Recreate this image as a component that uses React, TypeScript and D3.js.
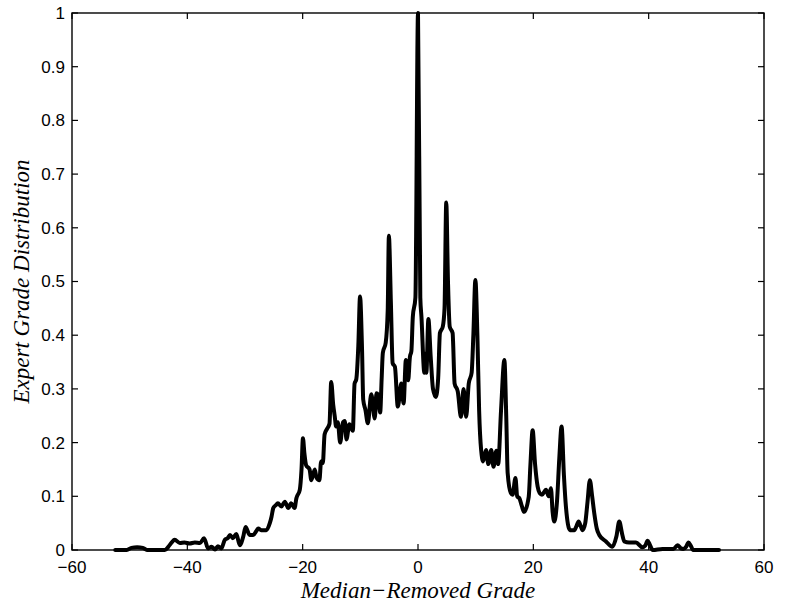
import React from "react";
import * as d3 from "d3";

// Median-removed grade (x) and normalised expert grade distribution (y)
const GRADE = [
  -52.5, -50.5, -49.7, -48.7, -47.7, -47.0, -43.9, -43.3, -42.7, -42.2,
  -41.3, -40.5, -39.6, -38.7, -37.8, -37.1, -36.4, -35.8, -35.2, -34.7,
  -34.1, -33.5, -33.0, -32.6, -32.1, -31.5, -30.9, -30.3, -29.9, -29.2,
  -28.6, -28.0, -27.7, -27.2, -26.3, -25.7, -25.4, -25.1, -24.7, -24.3,
  -23.7, -23.1, -22.5, -22.0, -21.4, -21.1, -20.5, -20.2, -19.95, -19.7,
  -19.4, -18.8, -18.5, -17.9, -17.6, -17.1, -16.8, -16.5, -16.2, -15.8,
  -15.35, -15.05, -14.7, -14.45, -14.2, -13.9, -13.5, -13.0, -12.7, -12.4,
  -11.9, -11.3, -11.0, -10.7, -10.35, -10.05, -9.7, -9.5, -9.1, -8.7,
  -8.1, -7.5, -7.2, -6.95, -6.56, -6.3, -6.1, -5.6, -5.25, -5.05,
  -4.7, -4.4, -4.0, -3.5, -2.9, -2.5, -2.1, -1.7, -1.4, -1.15,
  -0.9, -0.45, 0.0, 0.4, 0.6, 1.1, 1.3, 1.45, 1.8, 2.2,
  2.6, 3.1, 3.5, 3.8, 4.3, 4.6, 4.9, 5.2, 5.5, 6.0,
  6.35, 6.9, 7.45, 7.9, 8.35, 8.8, 9.3, 9.6, 9.95, 10.3,
  10.6, 10.95, 11.3, 11.8, 12.2, 12.7, 13.1, 13.6, 13.9, 14.4,
  14.98, 15.3, 15.55, 16.1, 16.4, 16.9, 17.2, 17.6, 18.0, 18.4,
  19.2, 19.5, 19.88, 20.3, 20.75, 21.1, 21.5, 22.2, 22.65, 23.05,
  23.35, 23.63, 24.1, 24.5, 24.9, 25.3, 25.65, 26.35, 27.1, 27.5,
  27.85, 28.2, 28.54, 29.0, 29.4, 29.8, 30.2, 30.56, 31.0, 31.43,
  32.6, 33.7, 34.4, 34.9, 35.4, 35.76, 36.6, 37.8, 38.9, 39.4,
  39.8, 40.2, 40.7, 42.4, 43.0, 44.3, 45.0, 45.6, 46.0, 46.5,
  46.9, 47.3, 47.7, 52.2,
];

const DISTRIBUTION = [
  0, 0, 0.004, 0.005, 0.004, 0, 0, 0.006, 0.014, 0.019,
  0.013, 0.014, 0.012, 0.014, 0.013, 0.022, 0.003, 0.006, 0.001, 0.007,
  0.003, 0.019, 0.022, 0.028, 0.022, 0.03, 0.009, 0.025, 0.043, 0.028,
  0.028, 0.036, 0.04, 0.037, 0.037, 0.05, 0.062, 0.078, 0.083, 0.087,
  0.081, 0.09, 0.078, 0.087, 0.078, 0.096, 0.112, 0.15, 0.208, 0.18,
  0.158, 0.15, 0.13, 0.15, 0.135, 0.13, 0.165, 0.162, 0.215, 0.225,
  0.235, 0.313, 0.27, 0.25, 0.23, 0.238, 0.2, 0.238, 0.24, 0.206,
  0.234, 0.222, 0.31, 0.318, 0.38, 0.472, 0.372, 0.28, 0.26, 0.236,
  0.29, 0.245, 0.292, 0.29, 0.256, 0.32, 0.367, 0.386, 0.447, 0.585,
  0.46, 0.348, 0.341, 0.267, 0.31, 0.273, 0.354, 0.316, 0.36, 0.37,
  0.434, 0.47, 1.0, 0.47, 0.434, 0.33, 0.366, 0.33, 0.43, 0.36,
  0.3, 0.285, 0.32, 0.404, 0.416, 0.45, 0.647, 0.5, 0.416, 0.404,
  0.31, 0.295, 0.248, 0.3, 0.248, 0.31, 0.33, 0.4, 0.503, 0.4,
  0.26, 0.186, 0.165, 0.186, 0.16, 0.186, 0.155, 0.185, 0.16, 0.26,
  0.354, 0.25, 0.143, 0.106, 0.103, 0.134, 0.1, 0.096, 0.082, 0.071,
  0.099, 0.16, 0.223, 0.16, 0.118, 0.106, 0.103, 0.112, 0.1, 0.115,
  0.07, 0.053, 0.09, 0.17, 0.23, 0.14, 0.081, 0.037, 0.037, 0.045,
  0.053, 0.045, 0.037, 0.05, 0.09, 0.13, 0.1, 0.069, 0.04, 0.028,
  0.016, 0.006, 0.025, 0.053, 0.03, 0.016, 0.014, 0.014, 0.005, 0.008,
  0.017, 0.01, 0, 0.002, 0.002, 0.002, 0.009, 0.003, 0.002, 0.006,
  0.014, 0.008, 0, 0,
];

const X_TICKS = [-60, -40, -20, 0, 20, 40, 60];
const Y_TICKS = [0, 0.1, 0.2, 0.3, 0.4, 0.5, 0.6, 0.7, 0.8, 0.9, 1];

const X_LABEL = "Median\u2212Removed Grade";
const Y_LABEL = "Expert Grade Distribution";

const WIDTH = 787;
const HEIGHT = 607;
const PLOT = { left: 72, right: 764, top: 13, bottom: 550 };
const TICK_LEN = 6;
const SANS = "'Liberation Sans', Arial, Helvetica, sans-serif";
const SERIF = "'Liberation Serif', 'Times New Roman', Times, serif";

function formatTick(v: number): string {
  if (v === 0) return "0";
  if (v === 1) return "1";
  return String(Math.round(v * 10) / 10);
}

function formatX(v: number): string {
  return v < 0 ? "\u2212" + Math.abs(v) : String(v);
}

export default function App() {
  const x = d3.scaleLinear().domain([-60, 60]).range([PLOT.left, PLOT.right]);
  const y = d3.scaleLinear().domain([0, 1]).range([PLOT.bottom, PLOT.top]);

  const points: [number, number][] = GRADE.map((g, i) => [g, DISTRIBUTION[i]]);
  const line = d3
    .line<[number, number]>()
    .x((d) => x(d[0]))
    .y((d) => y(d[1]))
    .curve(d3.curveMonotoneX);

  return (
    <svg
      width={WIDTH}
      height={HEIGHT}
      style={{ position: "absolute", left: 0, top: 0, background: "#fff" }}
    >
      <rect x={0} y={0} width={WIDTH} height={HEIGHT} fill="#fff" />

      {/* distribution curve */}
      <path
        d={line(points) ?? ""}
        fill="none"
        stroke="#000"
        strokeWidth={4}
        strokeLinejoin="round"
        strokeLinecap="round"
      />

      {/* axes box */}
      <rect
        x={PLOT.left}
        y={PLOT.top}
        width={PLOT.right - PLOT.left}
        height={PLOT.bottom - PLOT.top}
        fill="none"
        stroke="#000"
        strokeWidth={1.4}
      />

      {/* x ticks, bottom and top, pointing inward */}
      {X_TICKS.map((t) => (
        <g key={"x" + t}>
          <line x1={x(t)} x2={x(t)} y1={PLOT.bottom} y2={PLOT.bottom - TICK_LEN} stroke="#000" strokeWidth={1.2} />
          <line x1={x(t)} x2={x(t)} y1={PLOT.top} y2={PLOT.top + TICK_LEN} stroke="#000" strokeWidth={1.2} />
          <text
            x={x(t)}
            y={PLOT.bottom + 23}
            textAnchor="middle"
            fontFamily={SANS}
            fontSize={17}
            fill="#000"
          >
            {formatX(t)}
          </text>
        </g>
      ))}

      {/* y ticks, left and right, pointing inward */}
      {Y_TICKS.map((t) => (
        <g key={"y" + t}>
          <line x1={PLOT.left} x2={PLOT.left + TICK_LEN} y1={y(t)} y2={y(t)} stroke="#000" strokeWidth={1.2} />
          <line x1={PLOT.right} x2={PLOT.right - TICK_LEN} y1={y(t)} y2={y(t)} stroke="#000" strokeWidth={1.2} />
          <text
            x={PLOT.left - 7}
            y={y(t)}
            dy="0.35em"
            textAnchor="end"
            fontFamily={SANS}
            fontSize={17}
            fill="#000"
          >
            {formatTick(t)}
          </text>
        </g>
      ))}

      {/* axis titles */}
      <text
        x={(PLOT.left + PLOT.right) / 2}
        y={598}
        textAnchor="middle"
        fontFamily={SERIF}
        fontStyle="italic"
        fontSize={23}
        fill="#000"
      >
        {X_LABEL}
      </text>
      <text
        transform={`translate(29, ${(PLOT.top + PLOT.bottom) / 2}) rotate(-90)`}
        textAnchor="middle"
        fontFamily={SERIF}
        fontStyle="italic"
        fontSize={23}
        fill="#000"
      >
        {Y_LABEL}
      </text>
    </svg>
  );
}
